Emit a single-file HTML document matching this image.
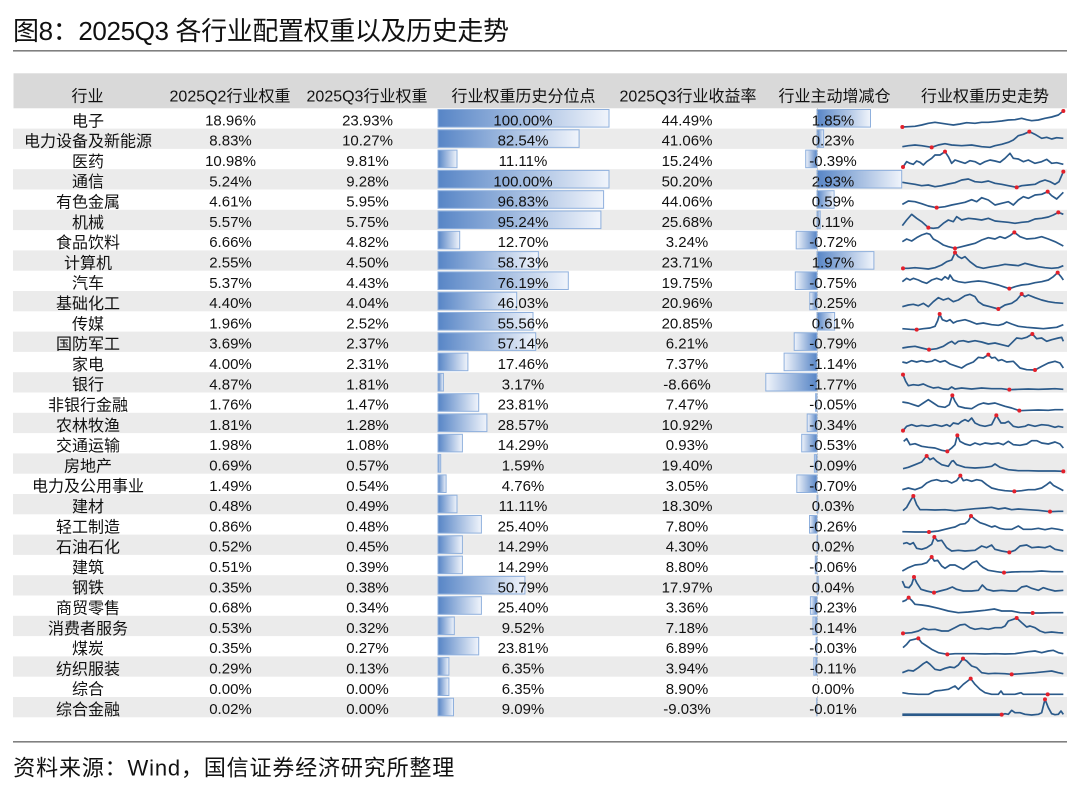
<!DOCTYPE html>
<html>
<head>
<meta charset="utf-8">
<style>
html,body{margin:0;padding:0;background:#fff;}
body{width:1080px;height:792px;overflow:hidden;}
svg{display:block;}
svg text{font-family:"Liberation Sans","Noto Sans CJK SC",sans-serif;fill:#111;}
.c{text-anchor:middle;}
.h{font-size:16px;text-anchor:middle;}
.n{font-size:16px;text-anchor:middle;}
.v{font-size:15px;text-anchor:middle;}
.sl polyline{fill:none;stroke:#2b5a8a;stroke-width:1.7;vector-effect:non-scaling-stroke;stroke-linejoin:round;}
.sl circle{fill:#e3202b;}
</style>
</head>
<body>
<svg width="1080" height="792" viewBox="0 0 1080 792" xmlns="http://www.w3.org/2000/svg">
<defs>
<linearGradient id="gp" x1="0" y1="0" x2="1" y2="0">
<stop offset="0" stop-color="#5785c6"/>
<stop offset="1" stop-color="#f0f4fb"/>
</linearGradient>
<linearGradient id="gn" x1="1" y1="0" x2="0" y2="0">
<stop offset="0" stop-color="#5785c6"/>
<stop offset="1" stop-color="#f0f4fb"/>
</linearGradient>
</defs>

<!-- title -->
<text x="13" y="40" font-size="26" textLength="496" lengthAdjust="spacing">图8：2025Q3 各行业配置权重以及历史走势</text>
<rect x="13" y="50" width="1054" height="1.6" fill="#808080"/>

<!-- header -->
<rect x="13.5" y="73.3" width="1053.5" height="35" fill="#d9d9d9"/>
<text class="h" x="87.5" y="101.3">行业</text>
<text class="h" x="230" y="101.3">2025Q2行业权重</text>
<text class="h" x="367" y="101.3">2025Q3行业权重</text>
<text class="h" x="523.5" y="101.3">行业权重历史分位点</text>
<text class="h" x="688" y="101.3">2025Q3行业收益率</text>
<text class="h" x="834.5" y="101.3">行业主动增减仓</text>
<text class="h" x="985" y="101.3">行业权重历史走势</text>

<!-- rows -->
<g transform="translate(0,108.3)">
<rect x="438" y="1.2" width="171" height="17.6" fill="url(#gp)" stroke="#8fb0dd"/>
<rect x="817" y="1.2" width="53.5" height="17.6" fill="url(#gp)" stroke="#8fb0dd"/>
<text class="n" x="88" y="18">电子</text><text class="v" x="230.5" y="17.1">18.96%</text><text class="v" x="367.5" y="17.1">23.93%</text><text class="v" x="523" y="17.1">100.00%</text><text class="v" x="687" y="17.1">44.49%</text><text class="v" x="833" y="17.1">1.85%</text>
</g>
<g transform="translate(0,128.6)">
<rect x="13" y="0" width="1054" height="20.3" fill="#ebebeb"/>
<rect x="438" y="1.2" width="141.1" height="17.6" fill="url(#gp)" stroke="#8fb0dd"/>
<rect x="817" y="1.2" width="6.6" height="17.6" fill="url(#gp)" stroke="#8fb0dd"/>
<text class="n" x="88" y="18">电力设备及新能源</text><text class="v" x="230.5" y="17.1">8.83%</text><text class="v" x="367.5" y="17.1">10.27%</text><text class="v" x="523" y="17.1">82.54%</text><text class="v" x="687" y="17.1">41.06%</text><text class="v" x="833" y="17.1">0.23%</text>
</g>
<g transform="translate(0,148.9)">
<rect x="438" y="1.2" width="19" height="17.6" fill="url(#gp)" stroke="#8fb0dd"/>
<rect x="805.7" y="1.2" width="11.3" height="17.6" fill="url(#gn)" stroke="#8fb0dd"/>
<text class="n" x="88" y="18">医药</text><text class="v" x="230.5" y="17.1">10.98%</text><text class="v" x="367.5" y="17.1">9.81%</text><text class="v" x="523" y="17.1">11.11%</text><text class="v" x="687" y="17.1">15.24%</text><text class="v" x="833" y="17.1">-0.39%</text>
</g>
<g transform="translate(0,169.2)">
<rect x="13" y="0" width="1054" height="20.3" fill="#ebebeb"/>
<rect x="438" y="1.2" width="171" height="17.6" fill="url(#gp)" stroke="#8fb0dd"/>
<rect x="817" y="1.2" width="84.7" height="17.6" fill="url(#gp)" stroke="#8fb0dd"/>
<text class="n" x="88" y="18">通信</text><text class="v" x="230.5" y="17.1">5.24%</text><text class="v" x="367.5" y="17.1">9.28%</text><text class="v" x="523" y="17.1">100.00%</text><text class="v" x="687" y="17.1">50.20%</text><text class="v" x="833" y="17.1">2.93%</text>
</g>
<g transform="translate(0,189.5)">
<rect x="438" y="1.2" width="165.6" height="17.6" fill="url(#gp)" stroke="#8fb0dd"/>
<rect x="817" y="1.2" width="17.1" height="17.6" fill="url(#gp)" stroke="#8fb0dd"/>
<text class="n" x="88" y="18">有色金属</text><text class="v" x="230.5" y="17.1">4.61%</text><text class="v" x="367.5" y="17.1">5.95%</text><text class="v" x="523" y="17.1">96.83%</text><text class="v" x="687" y="17.1">44.06%</text><text class="v" x="833" y="17.1">0.59%</text>
</g>
<g transform="translate(0,209.8)">
<rect x="13" y="0" width="1054" height="20.3" fill="#ebebeb"/>
<rect x="438" y="1.2" width="162.9" height="17.6" fill="url(#gp)" stroke="#8fb0dd"/>
<rect x="817" y="1.2" width="3.2" height="17.6" fill="url(#gp)" stroke="#8fb0dd"/>
<text class="n" x="88" y="18">机械</text><text class="v" x="230.5" y="17.1">5.57%</text><text class="v" x="367.5" y="17.1">5.75%</text><text class="v" x="523" y="17.1">95.24%</text><text class="v" x="687" y="17.1">25.68%</text><text class="v" x="833" y="17.1">0.11%</text>
</g>
<g transform="translate(0,230.1)">
<rect x="438" y="1.2" width="21.7" height="17.6" fill="url(#gp)" stroke="#8fb0dd"/>
<rect x="796.2" y="1.2" width="20.8" height="17.6" fill="url(#gn)" stroke="#8fb0dd"/>
<text class="n" x="88" y="18">食品饮料</text><text class="v" x="230.5" y="17.1">6.66%</text><text class="v" x="367.5" y="17.1">4.82%</text><text class="v" x="523" y="17.1">12.70%</text><text class="v" x="687" y="17.1">3.24%</text><text class="v" x="833" y="17.1">-0.72%</text>
</g>
<g transform="translate(0,250.4)">
<rect x="13" y="0" width="1054" height="20.3" fill="#ebebeb"/>
<rect x="438" y="1.2" width="100.4" height="17.6" fill="url(#gp)" stroke="#8fb0dd"/>
<rect x="817" y="1.2" width="56.9" height="17.6" fill="url(#gp)" stroke="#8fb0dd"/>
<text class="n" x="88" y="18">计算机</text><text class="v" x="230.5" y="17.1">2.55%</text><text class="v" x="367.5" y="17.1">4.50%</text><text class="v" x="523" y="17.1">58.73%</text><text class="v" x="687" y="17.1">23.71%</text><text class="v" x="833" y="17.1">1.97%</text>
</g>
<g transform="translate(0,270.7)">
<rect x="438" y="1.2" width="130.3" height="17.6" fill="url(#gp)" stroke="#8fb0dd"/>
<rect x="795.3" y="1.2" width="21.7" height="17.6" fill="url(#gn)" stroke="#8fb0dd"/>
<text class="n" x="88" y="18">汽车</text><text class="v" x="230.5" y="17.1">5.37%</text><text class="v" x="367.5" y="17.1">4.43%</text><text class="v" x="523" y="17.1">76.19%</text><text class="v" x="687" y="17.1">19.75%</text><text class="v" x="833" y="17.1">-0.75%</text>
</g>
<g transform="translate(0,291.0)">
<rect x="13" y="0" width="1054" height="20.3" fill="#ebebeb"/>
<rect x="438" y="1.2" width="78.7" height="17.6" fill="url(#gp)" stroke="#8fb0dd"/>
<rect x="809.8" y="1.2" width="7.2" height="17.6" fill="url(#gn)" stroke="#8fb0dd"/>
<text class="n" x="88" y="18">基础化工</text><text class="v" x="230.5" y="17.1">4.40%</text><text class="v" x="367.5" y="17.1">4.04%</text><text class="v" x="523" y="17.1">46.03%</text><text class="v" x="687" y="17.1">20.96%</text><text class="v" x="833" y="17.1">-0.25%</text>
</g>
<g transform="translate(0,311.3)">
<rect x="438" y="1.2" width="95" height="17.6" fill="url(#gp)" stroke="#8fb0dd"/>
<rect x="817" y="1.2" width="17.6" height="17.6" fill="url(#gp)" stroke="#8fb0dd"/>
<text class="n" x="88" y="18">传媒</text><text class="v" x="230.5" y="17.1">1.96%</text><text class="v" x="367.5" y="17.1">2.52%</text><text class="v" x="523" y="17.1">55.56%</text><text class="v" x="687" y="17.1">20.85%</text><text class="v" x="833" y="17.1">0.61%</text>
</g>
<g transform="translate(0,331.6)">
<rect x="13" y="0" width="1054" height="20.3" fill="#ebebeb"/>
<rect x="438" y="1.2" width="97.7" height="17.6" fill="url(#gp)" stroke="#8fb0dd"/>
<rect x="794.2" y="1.2" width="22.8" height="17.6" fill="url(#gn)" stroke="#8fb0dd"/>
<text class="n" x="88" y="18">国防军工</text><text class="v" x="230.5" y="17.1">3.69%</text><text class="v" x="367.5" y="17.1">2.37%</text><text class="v" x="523" y="17.1">57.14%</text><text class="v" x="687" y="17.1">6.21%</text><text class="v" x="833" y="17.1">-0.79%</text>
</g>
<g transform="translate(0,351.9)">
<rect x="438" y="1.2" width="29.9" height="17.6" fill="url(#gp)" stroke="#8fb0dd"/>
<rect x="784.1" y="1.2" width="32.9" height="17.6" fill="url(#gn)" stroke="#8fb0dd"/>
<text class="n" x="88" y="18">家电</text><text class="v" x="230.5" y="17.1">4.00%</text><text class="v" x="367.5" y="17.1">2.31%</text><text class="v" x="523" y="17.1">17.46%</text><text class="v" x="687" y="17.1">7.37%</text><text class="v" x="833" y="17.1">-1.14%</text>
</g>
<g transform="translate(0,372.2)">
<rect x="13" y="0" width="1054" height="20.3" fill="#ebebeb"/>
<rect x="438" y="1.2" width="5.4" height="17.6" fill="url(#gp)" stroke="#8fb0dd"/>
<rect x="765.8" y="1.2" width="51.2" height="17.6" fill="url(#gn)" stroke="#8fb0dd"/>
<text class="n" x="88" y="18">银行</text><text class="v" x="230.5" y="17.1">4.87%</text><text class="v" x="367.5" y="17.1">1.81%</text><text class="v" x="523" y="17.1">3.17%</text><text class="v" x="687" y="17.1">-8.66%</text><text class="v" x="833" y="17.1">-1.77%</text>
</g>
<g transform="translate(0,392.5)">
<rect x="438" y="1.2" width="40.7" height="17.6" fill="url(#gp)" stroke="#8fb0dd"/>
<rect x="815.6" y="1.2" width="1.4" height="17.6" fill="url(#gn)" stroke="#8fb0dd"/>
<text class="n" x="88" y="18">非银行金融</text><text class="v" x="230.5" y="17.1">1.76%</text><text class="v" x="367.5" y="17.1">1.47%</text><text class="v" x="523" y="17.1">23.81%</text><text class="v" x="687" y="17.1">7.47%</text><text class="v" x="833" y="17.1">-0.05%</text>
</g>
<g transform="translate(0,412.8)">
<rect x="13" y="0" width="1054" height="20.3" fill="#ebebeb"/>
<rect x="438" y="1.2" width="48.9" height="17.6" fill="url(#gp)" stroke="#8fb0dd"/>
<rect x="807.2" y="1.2" width="9.8" height="17.6" fill="url(#gn)" stroke="#8fb0dd"/>
<text class="n" x="88" y="18">农林牧渔</text><text class="v" x="230.5" y="17.1">1.81%</text><text class="v" x="367.5" y="17.1">1.28%</text><text class="v" x="523" y="17.1">28.57%</text><text class="v" x="687" y="17.1">10.92%</text><text class="v" x="833" y="17.1">-0.34%</text>
</g>
<g transform="translate(0,433.1)">
<rect x="438" y="1.2" width="24.4" height="17.6" fill="url(#gp)" stroke="#8fb0dd"/>
<rect x="801.7" y="1.2" width="15.3" height="17.6" fill="url(#gn)" stroke="#8fb0dd"/>
<text class="n" x="88" y="18">交通运输</text><text class="v" x="230.5" y="17.1">1.98%</text><text class="v" x="367.5" y="17.1">1.08%</text><text class="v" x="523" y="17.1">14.29%</text><text class="v" x="687" y="17.1">0.93%</text><text class="v" x="833" y="17.1">-0.53%</text>
</g>
<g transform="translate(0,453.4)">
<rect x="13" y="0" width="1054" height="20.3" fill="#ebebeb"/>
<rect x="438" y="1.2" width="2.7" height="17.6" fill="url(#gp)" stroke="#8fb0dd"/>
<rect x="814.4" y="1.2" width="2.6" height="17.6" fill="url(#gn)" stroke="#8fb0dd"/>
<text class="n" x="88" y="18">房地产</text><text class="v" x="230.5" y="17.1">0.69%</text><text class="v" x="367.5" y="17.1">0.57%</text><text class="v" x="523" y="17.1">1.59%</text><text class="v" x="687" y="17.1">19.40%</text><text class="v" x="833" y="17.1">-0.09%</text>
</g>
<g transform="translate(0,473.7)">
<rect x="438" y="1.2" width="8.1" height="17.6" fill="url(#gp)" stroke="#8fb0dd"/>
<rect x="796.8" y="1.2" width="20.2" height="17.6" fill="url(#gn)" stroke="#8fb0dd"/>
<text class="n" x="88" y="18">电力及公用事业</text><text class="v" x="230.5" y="17.1">1.49%</text><text class="v" x="367.5" y="17.1">0.54%</text><text class="v" x="523" y="17.1">4.76%</text><text class="v" x="687" y="17.1">3.05%</text><text class="v" x="833" y="17.1">-0.70%</text>
</g>
<g transform="translate(0,494.0)">
<rect x="13" y="0" width="1054" height="20.3" fill="#ebebeb"/>
<rect x="438" y="1.2" width="19" height="17.6" fill="url(#gp)" stroke="#8fb0dd"/>
<rect x="817" y="1.2" width="0.9" height="17.6" fill="url(#gp)" stroke="#8fb0dd"/>
<text class="n" x="88" y="18">建材</text><text class="v" x="230.5" y="17.1">0.48%</text><text class="v" x="367.5" y="17.1">0.49%</text><text class="v" x="523" y="17.1">11.11%</text><text class="v" x="687" y="17.1">18.30%</text><text class="v" x="833" y="17.1">0.03%</text>
</g>
<g transform="translate(0,514.3)">
<rect x="438" y="1.2" width="43.4" height="17.6" fill="url(#gp)" stroke="#8fb0dd"/>
<rect x="809.5" y="1.2" width="7.5" height="17.6" fill="url(#gn)" stroke="#8fb0dd"/>
<text class="n" x="88" y="18">轻工制造</text><text class="v" x="230.5" y="17.1">0.86%</text><text class="v" x="367.5" y="17.1">0.48%</text><text class="v" x="523" y="17.1">25.40%</text><text class="v" x="687" y="17.1">7.80%</text><text class="v" x="833" y="17.1">-0.26%</text>
</g>
<g transform="translate(0,534.6)">
<rect x="13" y="0" width="1054" height="20.3" fill="#ebebeb"/>
<rect x="438" y="1.2" width="24.4" height="17.6" fill="url(#gp)" stroke="#8fb0dd"/>
<rect x="817" y="1.2" width="0.6" height="17.6" fill="url(#gp)" stroke="#8fb0dd"/>
<text class="n" x="88" y="18">石油石化</text><text class="v" x="230.5" y="17.1">0.52%</text><text class="v" x="367.5" y="17.1">0.45%</text><text class="v" x="523" y="17.1">14.29%</text><text class="v" x="687" y="17.1">4.30%</text><text class="v" x="833" y="17.1">0.02%</text>
</g>
<g transform="translate(0,554.9)">
<rect x="438" y="1.2" width="24.4" height="17.6" fill="url(#gp)" stroke="#8fb0dd"/>
<rect x="815.3" y="1.2" width="1.7" height="17.6" fill="url(#gn)" stroke="#8fb0dd"/>
<text class="n" x="88" y="18">建筑</text><text class="v" x="230.5" y="17.1">0.51%</text><text class="v" x="367.5" y="17.1">0.39%</text><text class="v" x="523" y="17.1">14.29%</text><text class="v" x="687" y="17.1">8.80%</text><text class="v" x="833" y="17.1">-0.06%</text>
</g>
<g transform="translate(0,575.2)">
<rect x="13" y="0" width="1054" height="20.3" fill="#ebebeb"/>
<rect x="438" y="1.2" width="86.9" height="17.6" fill="url(#gp)" stroke="#8fb0dd"/>
<rect x="817" y="1.2" width="1.2" height="17.6" fill="url(#gp)" stroke="#8fb0dd"/>
<text class="n" x="88" y="18">钢铁</text><text class="v" x="230.5" y="17.1">0.35%</text><text class="v" x="367.5" y="17.1">0.38%</text><text class="v" x="523" y="17.1">50.79%</text><text class="v" x="687" y="17.1">17.97%</text><text class="v" x="833" y="17.1">0.04%</text>
</g>
<g transform="translate(0,595.5)">
<rect x="438" y="1.2" width="43.4" height="17.6" fill="url(#gp)" stroke="#8fb0dd"/>
<rect x="810.4" y="1.2" width="6.6" height="17.6" fill="url(#gn)" stroke="#8fb0dd"/>
<text class="n" x="88" y="18">商贸零售</text><text class="v" x="230.5" y="17.1">0.68%</text><text class="v" x="367.5" y="17.1">0.34%</text><text class="v" x="523" y="17.1">25.40%</text><text class="v" x="687" y="17.1">3.36%</text><text class="v" x="833" y="17.1">-0.23%</text>
</g>
<g transform="translate(0,615.8)">
<rect x="13" y="0" width="1054" height="20.3" fill="#ebebeb"/>
<rect x="438" y="1.2" width="16.3" height="17.6" fill="url(#gp)" stroke="#8fb0dd"/>
<rect x="813" y="1.2" width="4" height="17.6" fill="url(#gn)" stroke="#8fb0dd"/>
<text class="n" x="88" y="18">消费者服务</text><text class="v" x="230.5" y="17.1">0.53%</text><text class="v" x="367.5" y="17.1">0.32%</text><text class="v" x="523" y="17.1">9.52%</text><text class="v" x="687" y="17.1">7.18%</text><text class="v" x="833" y="17.1">-0.14%</text>
</g>
<g transform="translate(0,636.1)">
<rect x="438" y="1.2" width="40.7" height="17.6" fill="url(#gp)" stroke="#8fb0dd"/>
<rect x="816.1" y="1.2" width="0.9" height="17.6" fill="url(#gn)" stroke="#8fb0dd"/>
<text class="n" x="88" y="18">煤炭</text><text class="v" x="230.5" y="17.1">0.35%</text><text class="v" x="367.5" y="17.1">0.27%</text><text class="v" x="523" y="17.1">23.81%</text><text class="v" x="687" y="17.1">6.89%</text><text class="v" x="833" y="17.1">-0.03%</text>
</g>
<g transform="translate(0,656.4)">
<rect x="13" y="0" width="1054" height="20.3" fill="#ebebeb"/>
<rect x="438" y="1.2" width="10.9" height="17.6" fill="url(#gp)" stroke="#8fb0dd"/>
<rect x="813.8" y="1.2" width="3.2" height="17.6" fill="url(#gn)" stroke="#8fb0dd"/>
<text class="n" x="88" y="18">纺织服装</text><text class="v" x="230.5" y="17.1">0.29%</text><text class="v" x="367.5" y="17.1">0.13%</text><text class="v" x="523" y="17.1">6.35%</text><text class="v" x="687" y="17.1">3.94%</text><text class="v" x="833" y="17.1">-0.11%</text>
</g>
<g transform="translate(0,676.7)">
<rect x="438" y="1.2" width="10.9" height="17.6" fill="url(#gp)" stroke="#8fb0dd"/>
<text class="n" x="88" y="18">综合</text><text class="v" x="230.5" y="17.1">0.00%</text><text class="v" x="367.5" y="17.1">0.00%</text><text class="v" x="523" y="17.1">6.35%</text><text class="v" x="687" y="17.1">8.90%</text><text class="v" x="833" y="17.1">0.00%</text>
</g>
<g transform="translate(0,697.0)">
<rect x="13" y="0" width="1054" height="20.3" fill="#ebebeb"/>
<rect x="438" y="1.2" width="15.5" height="17.6" fill="url(#gp)" stroke="#8fb0dd"/>
<rect x="816.7" y="1.2" width="0.3" height="17.6" fill="url(#gn)" stroke="#8fb0dd"/>
<text class="n" x="88" y="18">综合金融</text><text class="v" x="230.5" y="17.1">0.02%</text><text class="v" x="367.5" y="17.1">0.00%</text><text class="v" x="523" y="17.1">9.09%</text><text class="v" x="687" y="17.1">-9.03%</text><text class="v" x="833" y="17.1">-0.01%</text>
</g>

<!-- axis of active column -->
<line x1="817.5" y1="108.5" x2="817.5" y2="717" stroke="#b0b0b0" stroke-width="1" stroke-dasharray="1,2"/>

<!-- sparklines rows 0-9 -->
<g class="sl" transform="translate(895,105) scale(0.333333)">
<polyline points="22,66 40,65 60,64 80,60 100,55 120,52 140,55 160,58 175,60 195,57 215,53 240,55 260,52 280,52 300,50 320,48 340,45 360,44 380,40 395,44 410,47 430,45 450,40 470,36 490,30 505,18"/>
<polyline points="22,125 40,122 60,120 80,122 110,127 130,120 150,116 170,120 200,122 230,120 260,125 285,127 300,122 320,118 340,112 355,105 370,92 385,88 403,80 420,88 440,100 455,97 470,102 485,98 505,100"/>
<polyline points="24,186 35,170 45,175 55,178 65,168 75,172 85,180 95,170 110,160 120,150 135,150 150,140 160,155 170,175 180,165 195,170 210,175 225,167 240,170 255,178 270,170 285,165 300,168 315,172 330,160 345,145 355,160 370,162 385,170 400,165 420,175 440,170 455,163 470,175 485,173 505,178"/>
<polyline points="22,232 40,235 60,238 80,242 100,240 120,245 140,242 160,237 180,233 200,225 220,222 240,230 260,232 280,228 300,235 320,238 340,242 365,247 380,242 400,240 420,238 435,230 450,225 465,230 480,238 492,230 505,200"/>
<polyline points="22,298 40,288 60,290 80,296 100,303 125,308 150,305 170,300 190,296 210,292 230,284 245,290 260,278 280,285 300,300 320,295 340,290 355,300 370,285 385,275 400,280 420,270 440,268 458,260 470,272 485,282 495,272 505,262"/>
<polyline points="22,362 35,345 50,328 65,340 80,350 100,368 115,370 130,368 145,355 160,345 175,350 185,335 200,345 220,340 240,342 260,345 280,340 300,348 320,350 340,352 360,355 380,352 400,350 420,342 440,340 460,336 475,330 490,322 505,328"/>
<polyline points="22,410 35,402 50,408 65,398 80,390 95,385 105,388 115,402 130,410 145,420 160,425 180,430 200,425 220,420 240,415 260,405 280,398 300,402 315,395 330,400 345,392 358,382 375,395 395,402 420,400 440,395 460,402 480,410 505,423"/>
<polyline points="24,490 40,490 60,488 80,490 100,492 120,488 140,480 155,470 170,465 180,443 190,455 200,460 210,455 225,470 245,485 265,490 290,485 310,482 330,478 350,480 370,482 390,475 410,480 430,485 450,488 470,490 490,488 505,482"/>
<polyline points="22,530 35,520 45,525 55,520 70,525 80,530 95,535 110,525 125,520 140,525 150,515 160,522 165,510 175,525 190,530 210,533 230,530 250,528 270,530 290,535 310,540 325,545 343,551 360,545 380,540 400,538 420,533 440,530 460,525 475,515 488,503 498,515 505,525"/>
<polyline points="22,605 40,600 55,598 70,602 85,595 100,605 115,590 130,578 145,585 160,580 175,590 190,585 210,572 225,568 240,575 250,590 265,600 285,605 310,612 330,600 350,595 365,585 380,567 390,575 400,570 420,578 440,585 460,590 480,593 505,595"/>
<circle cx="22" cy="66" r="6"/><circle cx="505" cy="18" r="6"/>
<circle cx="110" cy="127" r="6"/><circle cx="403" cy="80" r="6"/>
<circle cx="24" cy="186" r="6"/><circle cx="150" cy="140" r="6"/>
<circle cx="365" cy="247" r="6"/><circle cx="505" cy="200" r="6"/>
<circle cx="125" cy="308" r="6"/><circle cx="458" cy="260" r="6"/>
<circle cx="100" cy="368" r="6"/><circle cx="490" cy="322" r="6"/>
<circle cx="180" cy="430" r="6"/><circle cx="358" cy="382" r="6"/>
<circle cx="24" cy="490" r="6"/><circle cx="180" cy="443" r="6"/>
<circle cx="343" cy="551" r="6"/><circle cx="488" cy="503" r="6"/>
<circle cx="310" cy="612" r="6"/><circle cx="380" cy="567" r="6"/>
</g>

<!-- sparklines rows 10-19 -->
<g class="sl" transform="translate(895,308) scale(0.333333)">
<polyline points="22,62 45,64 65,65 85,62 105,60 120,55 128,38 134,18 142,35 155,40 165,35 175,45 185,40 195,38 210,35 225,40 245,48 265,45 290,50 310,52 325,48 335,42 350,48 370,55 395,58 420,60 445,62 465,60 485,58 505,50"/>
<polyline points="22,120 40,117 60,115 80,120 102,125 125,122 145,115 160,105 170,100 180,108 190,100 205,98 220,102 240,98 260,102 280,108 300,105 320,110 340,115 355,100 365,90 380,92 395,88 412,78 425,92 440,90 455,100 470,95 490,90 500,88 505,100"/>
<polyline points="22,162 35,165 50,158 65,162 80,158 95,162 110,160 120,155 135,162 150,158 165,168 185,175 200,180 215,170 235,162 250,148 265,150 280,140 290,150 300,148 310,158 320,155 335,162 355,160 375,180 395,185 420,186 440,175 460,165 480,160 495,165 505,180"/>
<polyline points="24,200 32,220 40,233 55,230 70,232 85,228 100,235 115,240 130,238 145,243 160,244 170,237 180,243 200,240 230,243 260,240 290,242 320,242 343,245 370,244 400,243 430,244 460,243 480,242 505,244"/>
<polyline points="22,282 40,285 55,290 70,295 85,285 100,275 115,285 130,295 150,298 163,290 168,275 172,262 180,280 190,295 210,300 230,302 250,290 265,285 280,288 300,285 315,290 330,295 350,300 373,308 400,307 430,306 460,307 480,305 505,305"/>
<polyline points="24,368 35,355 50,350 65,355 80,352 100,355 120,350 140,355 155,350 165,355 175,345 190,348 200,340 210,335 220,340 230,330 240,345 255,352 270,355 290,350 304,322 318,345 330,345 340,340 355,355 370,358 390,355 400,350 420,355 440,350 460,352 480,358 490,355 505,358"/>
<polyline points="26,400 35,392 45,410 60,407 80,415 100,418 120,420 140,427 157,430 170,420 180,410 187,382 195,400 210,408 225,412 240,405 255,410 270,405 290,408 310,405 325,410 340,400 355,410 375,412 395,408 410,398 425,398 440,405 460,408 480,402 495,408 505,420"/>
<polyline points="24,482 40,478 60,470 80,462 95,444 105,455 115,450 125,460 140,470 160,475 170,460 175,458 185,470 210,478 240,480 270,478 290,475 300,468 315,478 340,485 370,488 400,488 430,489 460,489 480,489 505,490"/>
<polyline points="22,545 40,540 60,545 80,538 95,525 110,518 125,515 140,520 155,518 170,525 185,518 196,503 205,518 215,515 230,520 245,515 260,518 275,530 290,540 310,545 330,548 358,550 380,548 400,545 420,545 440,540 455,530 465,522 475,532 490,540 505,548"/>
<polyline points="24,608 35,598 45,580 55,564 65,590 75,605 95,605 120,606 150,605 180,608 210,605 240,602 270,600 290,598 310,603 330,600 350,605 370,603 400,605 430,607 465,611 490,610 505,610"/>
<circle cx="65" cy="65" r="6"/><circle cx="134" cy="18" r="6"/>
<circle cx="102" cy="125" r="6"/><circle cx="412" cy="78" r="6"/>
<circle cx="420" cy="186" r="6"/><circle cx="280" cy="140" r="6"/>
<circle cx="24" cy="200" r="6"/><circle cx="343" cy="245" r="6"/>
<circle cx="172" cy="262" r="6"/><circle cx="373" cy="308" r="6"/>
<circle cx="24" cy="368" r="6"/><circle cx="304" cy="322" r="6"/>
<circle cx="157" cy="430" r="6"/><circle cx="187" cy="382" r="6"/>
<circle cx="95" cy="444" r="6"/><circle cx="505" cy="490" r="6"/>
<circle cx="196" cy="503" r="6"/><circle cx="358" cy="550" r="6"/>
<circle cx="55" cy="564" r="6"/><circle cx="465" cy="611" r="6"/>
</g>

<!-- sparklines rows 20-29 -->
<g class="sl" transform="translate(895,511) scale(0.333333)">
<polyline points="22,62 60,63 102,63 130,60 150,55 170,50 180,48 195,40 210,38 220,30 228,15 240,25 255,35 270,40 290,48 300,45 315,52 330,55 350,55 370,45 385,55 410,55 430,52 450,56 470,52 490,55 505,58"/>
<polyline points="24,98 35,95 45,100 55,95 65,112 80,115 95,110 110,100 118,78 128,90 140,88 155,110 170,120 190,118 210,120 240,118 260,105 275,110 290,102 300,115 320,120 343,124 360,118 375,105 395,102 410,110 430,108 450,110 465,105 480,115 505,120"/>
<polyline points="22,180 40,170 60,162 80,160 95,155 110,138 118,150 128,148 140,165 150,172 165,162 180,162 195,170 205,175 220,165 232,155 245,150 255,162 265,170 280,178 305,182 327,185 350,183 380,182 410,182 440,180 470,182 505,182"/>
<polyline points="22,210 30,228 42,230 50,220 57,198 65,215 78,235 95,240 117,245 135,240 155,235 172,228 185,235 205,240 230,240 250,238 262,222 275,235 295,240 320,238 345,240 365,240 380,228 395,225 410,232 430,238 445,230 460,235 480,240 505,238"/>
<polyline points="22,272 32,268 41,260 50,268 60,280 80,282 100,285 130,292 160,300 190,305 220,303 250,300 270,298 298,294 320,300 350,300 375,305 413,306 440,306 470,305 505,305"/>
<polyline points="24,367 50,365 70,360 85,352 100,356 120,355 140,360 160,360 180,350 195,342 210,340 225,350 240,355 260,352 280,355 300,350 320,350 330,345 340,330 355,325 365,321 380,335 395,348 405,345 420,350 435,360 450,365 470,363 490,365 505,366"/>
<polyline points="24,410 35,400 45,388 58,385 70,382 80,395 95,405 110,415 130,425 157,430 180,428 210,428 240,428 270,429 300,428 330,429 360,428 380,425 400,422 420,420 440,425 460,420 475,418 490,425 505,428"/>
<polyline points="22,485 40,478 55,480 70,470 85,458 95,452 105,460 120,475 135,478 150,472 165,468 178,470 190,462 204,443 215,450 230,465 245,470 260,485 280,488 300,487 330,488 350,490 380,488 420,485 450,482 470,480 490,485 505,488"/>
<polyline points="22,545 40,548 70,550 100,550 120,540 140,538 160,535 170,530 180,525 190,535 205,520 218,510 227,503 240,520 255,535 270,545 290,550 310,550 318,540 325,550 340,550 360,550 378,545 385,550 400,550 430,550 458,550 480,550 505,550"/>
<polyline points="22,611 320,611" style="stroke-width:2.6"/>
<polyline points="320,611 330,608 340,610 350,598 360,605 375,605 390,610 410,612 430,610 440,605 445,585 450,565 460,590 470,608 480,611 490,610 498,600 505,610"/>
<circle cx="102" cy="63" r="6"/><circle cx="228" cy="15" r="6"/>
<circle cx="118" cy="78" r="6"/><circle cx="343" cy="124" r="6"/>
<circle cx="110" cy="138" r="6"/><circle cx="327" cy="185" r="6"/>
<circle cx="57" cy="198" r="6"/><circle cx="117" cy="245" r="6"/>
<circle cx="41" cy="260" r="6"/><circle cx="413" cy="306" r="6"/>
<circle cx="24" cy="367" r="6"/><circle cx="365" cy="321" r="6"/>
<circle cx="70" cy="382" r="6"/><circle cx="157" cy="430" r="6"/>
<circle cx="204" cy="443" r="6"/><circle cx="350" cy="490" r="6"/>
<circle cx="227" cy="503" r="6"/><circle cx="458" cy="550" r="6"/>
<circle cx="320" cy="611" r="6"/><circle cx="450" cy="565" r="6"/>
</g>

<!-- footer -->
<rect x="13" y="741" width="1054" height="1.6" fill="#808080"/>
<text x="13.3" y="775.5" font-size="22" textLength="441" lengthAdjust="spacing">资料来源：Wind，国信证券经济研究所整理</text>
</svg>
</body>
</html>
